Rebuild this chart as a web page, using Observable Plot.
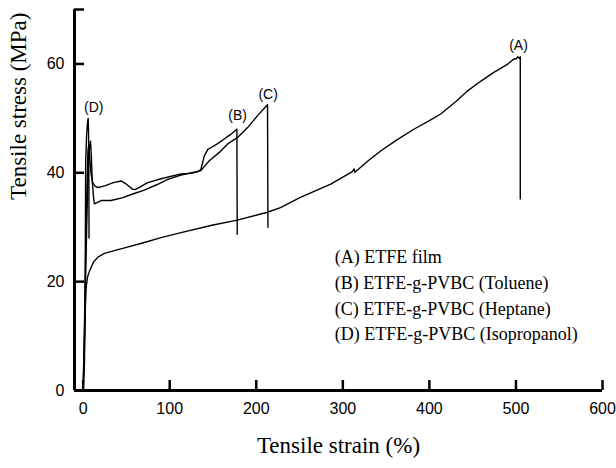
<!DOCTYPE html>
<html>
<head>
<meta charset="utf-8">
<script src="https://cdn.jsdelivr.net/npm/d3@7"></script>
<script src="https://cdn.jsdelivr.net/npm/@observablehq/plot@0.6"></script>
<style>
  html, body { margin: 0; padding: 0; background: #fff; }
</style>
</head>
<body>
<div id="chart"></div>
<script>
// (A) ETFE film
const strainA = [0, 1.5, 2.5, 3.5, 5, 7, 9.2, 12, 17, 24.6, 36, 50, 70.7, 90, 113, 150, 178, 212, 228, 251, 286, 311, 313, 314, 330, 343.7, 362, 382, 400, 413, 430, 443.7, 460, 474, 490, 497.5, 500, 502, 504, 505, 505];
const stressA = [0, 8, 15, 19, 20.8, 21.8, 22.6, 23.6, 24.5, 25.2, 25.7, 26.3, 27.2, 28.1, 29.0, 30.4, 31.3, 32.7, 33.6, 35.5, 37.9, 40.2, 40.7, 40.1, 42.3, 44.0, 46.0, 48.0, 49.6, 50.8, 53.0, 55.0, 56.9, 58.4, 59.9, 60.9, 60.9, 61.3, 61.0, 61.3, 35.2];
// (B) ETFE-g-PVBC (Toluene)
const strainB = [0, 1.5, 3, 4.5, 6, 7.5, 8.5, 9.5, 10.5, 12, 13, 16, 20.8, 32, 45, 59, 70.7, 85, 97.7, 113, 125, 132, 136, 140, 144, 147.6, 155, 163, 170, 177.6, 178];
const stressB = [0, 10, 22, 33, 41, 45, 45.8, 43, 38.5, 35.5, 34.3, 34.5, 34.9, 34.9, 35.4, 36.2, 36.8, 37.8, 38.8, 39.6, 40.0, 40.2, 40.6, 43.1, 44.3, 44.6, 45.3, 46.2, 47.0, 48.0, 28.7];
// (C) ETFE-g-PVBC (Heptane)
const strainC = [0, 1.5, 3, 4.5, 5.5, 6.5, 7.5, 9, 11, 14, 17, 25, 35, 43.8, 50, 57, 60, 66, 74.6, 90, 113, 125, 136, 145.7, 157, 167, 178.4, 190, 201.5, 213, 213.5];
const stressC = [0, 12, 26, 38, 44, 45.2, 43, 40, 38.2, 37.5, 37.3, 37.6, 38.2, 38.5, 37.9, 37.0, 36.9, 37.4, 38.2, 38.9, 39.8, 39.9, 40.4, 42.2, 43.7, 45.3, 46.5, 48.3, 50.5, 52.5, 30];
// (D) ETFE-g-PVBC (Isopropanol)
const strainD = [0, 1.5, 2.2, 2.6, 2.9, 4, 5.2, 5.8, 6.3, 6.6, 6.8];
const stressD = [0, 5, 15, 30, 42, 47, 49.5, 50, 47, 40, 28];

const curveLabels = ["(A)", "(B)", "(C)", "(D)"];
const curveLabelStrain = [503, 178.4, 213.7, 12.3];
const curveLabelStress = [63.3, 50.5, 54.3, 52];

const legendLabels = [
  "(A) ETFE film",
  "(B) ETFE-g-PVBC (Toluene)",
  "(C) ETFE-g-PVBC (Heptane)",
  "(D) ETFE-g-PVBC (Isopropanol)"
];

const xTicks = [0, 100, 200, 300, 400, 500, 600];
const yTicks = [0, 20, 40, 60];
const yEndTick = [70];

const xTitle = "Tensile strain (%)";
const yTitle = "Tensile stress (MPa)";

const toRows = (xs, ys) => xs.map((x, i) => ({strain: x, stress: ys[i]}));
const series = [toRows(strainA, stressA), toRows(strainB, stressB), toRows(strainC, stressC), toRows(strainD, stressD)];

const sans = "'Liberation Sans', Arial, sans-serif";
const serif = "'Liberation Serif', 'Times New Roman', serif";

const W = 616, H = 468, mL = 74, mR = 14, mT = 9, mB = 78;
const xDomain = [-10, 600], yDomain = [0, 70];
const tickPx = 10;
const xTickLen = tickPx * (xDomain[1] - xDomain[0]) / (W - mL - mR);
const yTickLen = tickPx * (yDomain[1] - yDomain[0]) / (H - mT - mB);

const chart = Plot.plot({
  width: W,
  height: H,
  marginLeft: mL,
  marginRight: mR,
  marginTop: mT,
  marginBottom: mB,
  x: {domain: xDomain},
  y: {domain: yDomain},
  style: {background: "#fff", color: "#000", fontFamily: sans},
  marks: [
    ...series.map(s => Plot.line(s, {x: "strain", y: "stress", stroke: "#000", strokeWidth: 1.4})),
    Plot.text(curveLabels, {x: (d, i) => curveLabelStrain[i], y: (d, i) => curveLabelStress[i], text: d => d, fontSize: 14, fontFamily: sans, fill: "#000"}),
    Plot.text(legendLabels, {x: 290.7, y: (d, i) => 24.5 - i * 4.75, text: d => d, textAnchor: "start", fontSize: 18, fontFamily: serif, fill: "#000"}),
    // inward tick marks
    Plot.ruleX(xTicks, {x: d => d, y1: yDomain[0], y2: yDomain[0] + yTickLen, stroke: "#000", strokeWidth: 2.5}),
    Plot.ruleY([...yTicks, ...yEndTick], {y: d => d, x1: xDomain[0], x2: xDomain[0] + xTickLen, stroke: "#000", strokeWidth: 2.5}),
    // tick labels
    Plot.axisX({ticks: xTicks, tickSize: 0, tickPadding: 12, fontSize: 16, label: null, tickFormat: d => d}),
    Plot.axisY({ticks: yTicks, tickSize: 0, tickPadding: 10, fontSize: 16, label: null, tickFormat: d => d}),
    Plot.ruleY([0], {stroke: "#000", strokeWidth: 3}),
    Plot.ruleX([-10], {stroke: "#000", strokeWidth: 3}),
    Plot.text([xTitle], {frameAnchor: "bottom", dy: 62, text: d => d, fontSize: 23, fontFamily: serif, fill: "#000"}),
    Plot.text([yTitle], {frameAnchor: "left", dx: -56, rotate: -90, text: d => d, fontSize: 23, fontFamily: serif, fill: "#000"})
  ]
});
document.getElementById("chart").appendChild(chart);
</script>
</body>
</html>
